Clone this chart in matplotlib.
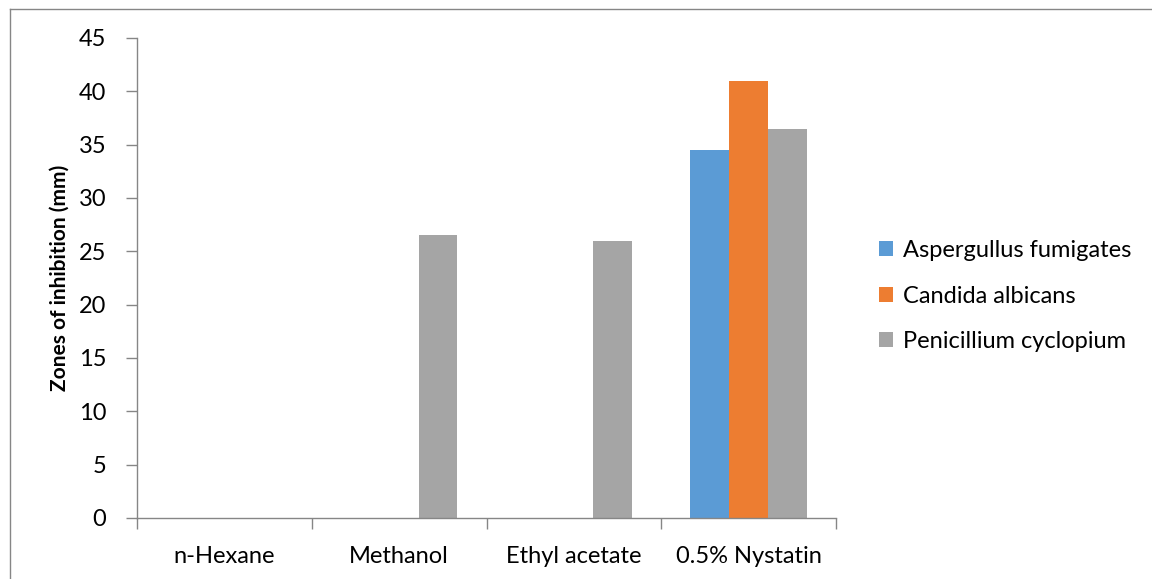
import matplotlib
matplotlib.use("Agg")
import matplotlib.pyplot as plt
import numpy as np
from matplotlib.lines import Line2D

categories = ["n-Hexane", "Methanol", "Ethyl acetate", "0.5% Nystatin"]
series_names = ["Aspergullus fumigates", "Candida albicans", "Penicillium cyclopium"]
aspergillus = [0, 0, 0, 34.5]
candida = [0, 0, 0, 41]
penicillium = [0, 26.5, 26, 36.5]
colors = ["#5B9BD5", "#ED7D31", "#A5A5A5"]
yticks = [0, 5, 10, 15, 20, 25, 30, 35, 40, 45]

plt.rcParams['font.family'] = ['Lato', 'DejaVu Sans']
FS = 17

W, H = 1152, 579
fig = plt.figure(figsize=(W/100, H/100), dpi=100)
ax = fig.add_axes([137/W, 1-518/H, (836-137)/W, (518-38)/H])

x = np.arange(len(categories))
bw = 0.222
for i, (vals, c, name) in enumerate(zip([aspergillus, candida, penicillium], colors, series_names)):
    ax.bar(x + (i-1)*bw, vals, width=bw, color=c, label=name)

ax.set_xlim(-0.5, len(categories)-0.5)
ax.set_ylim(0, 45)
ax.set_yticks(yticks)
ax.set_xticks(x)
ax.set_xticklabels(categories)
ax.set_xticks(np.arange(-0.5, len(categories)), minor=True)
ax.tick_params(axis='x', which='major', length=0, pad=20, labelsize=FS)
ax.tick_params(axis='x', which='minor', length=8, color='#868686', width=1)
ax.tick_params(axis='y', length=8, color='#868686', width=1, labelsize=FS, pad=14)
for s in ['top', 'right']:
    ax.spines[s].set_visible(False)
for s in ['left', 'bottom']:
    ax.spines[s].set_color('#868686')
    ax.spines[s].set_linewidth(1)
ax.set_ylabel("Zones of inhibition (mm)", fontsize=15, fontweight='bold')
ax.yaxis.set_label_coords((70-137)/(836-137), 0.5)

leg = ax.legend(loc='center left', bbox_to_anchor=(858/W, 1-296/H), bbox_transform=fig.transFigure,
                frameon=False, fontsize=FS, handlelength=0.6, handleheight=0.6, handletextpad=0.4,
                labelspacing=1.05)

fig.lines.append(Line2D([10/W, 10/W], [0, 1-9/H], transform=fig.transFigure, color='#868686', lw=1))
fig.lines.append(Line2D([10/W, 1], [1-9/H, 1-9/H], transform=fig.transFigure, color='#868686', lw=1))

fig.savefig("out.png", dpi=100)
